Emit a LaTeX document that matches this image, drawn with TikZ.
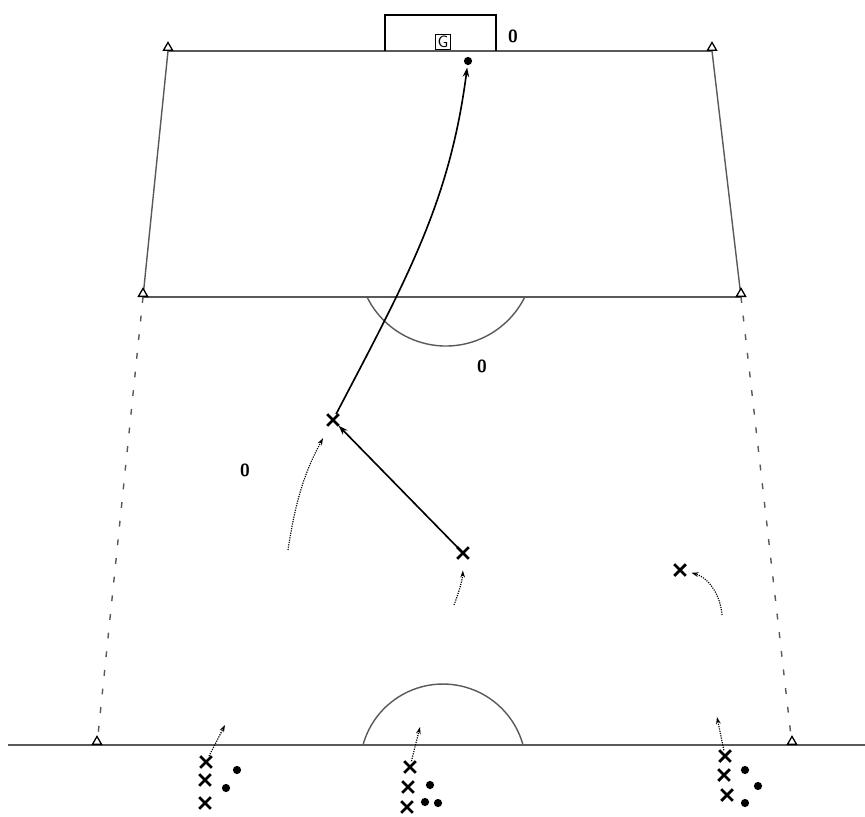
\documentclass[tikz,border=0pt]{standalone}
\usetikzlibrary{shapes.geometric,shapes.misc,arrows.meta}
\begin{document}
\begin{tikzpicture}[
      x=0.03cm, y=-0.03cm,
      every node/.style={font=\sffamily\bfseries},
      cone/.style={regular polygon, regular polygon sides=3, draw, fill=white, line width=1.1pt, inner sep=0pt, minimum size=9pt, anchor=south},
      plr/.style={cross out, draw, line width=2.4pt, inner sep=0pt, minimum size=7.5pt},
      opp/.style={circle, fill=black, inner sep=0pt, minimum size=7pt},
      pitch/.style={gray!70!black, line width=1.2pt},
      side/.style={pitch, dash pattern=on 5pt off 11pt},
      pass/.style={line width=1.4pt, -{Stealth[length=8pt,width=5.5pt]}},
      run/.style={densely dotted, line width=1pt, -{Stealth[length=6pt,width=4pt]}},
      lbl/.style={font=\sffamily\bfseries\fontsize{15}{17}\selectfont}
    ]
    \useasboundingbox (0,0) rectangle (865,817);

    % pitch
    \coordinate (TL) at (168,51);
    \coordinate (TR) at (712,51);
    \coordinate (ML) at (143,297);
    \coordinate (MR) at (741,297);
    \coordinate (BL) at (97,745);
    \coordinate (BR) at (792,745);

    \draw[pitch] (TL) -- (TR);
    \draw[pitch] (ML) -- (MR);
    \draw[pitch] (8,745) -- (865,745);
    \draw[pitch] (TL) -- (ML);
    \draw[pitch] (TR) -- (MR);
    \draw[side] (ML) -- (BL);
    \draw[side] (MR) -- (BR);

    \draw[pitch] (367,297) arc[start angle=153.7, end angle=26.3, radius=88];
    \draw[pitch] (363,745) arc[start angle=195.4, end angle=344.6, radius=83];

    \foreach \c in {TL,TR,ML,MR,BL,BR}
      \node[cone] (cone\c) at (\c) {};

    % goal
    \draw[line width=1.4pt] (385,51) -- (385,15) -- (496,15) -- (496,51);
    \node[draw, line width=0.7pt, inner sep=1.5pt, font=\sffamily\fontsize{14}{15}\selectfont] (gk) at (443,42) {G};

    \node[lbl] (z1) at (513,36) {0};
    \node[lbl] (z2) at (482,366) {0};
    \node[lbl] (z3) at (245,470) {0};

    % players
    \node[plr] (p1) at (333,420) {};
    \node[plr] (p2) at (463,553) {};
    \node[plr] (p3) at (680,570) {};
    \node[opp] (ball) at (468,61) {};

    \foreach \n/\x/\y in {a1/206/762, a2/205/780, a3/205/803,
                          b1/410/767, b2/408/787, b3/407/807,
                          c1/725/756, c2/724/775, c3/727/795}
      \node[plr] (x\n) at (\x,\y) {};
    \foreach \n/\x/\y in {a1/237/770, a2/226/788,
                          b1/430/785, b2/425/802, b3/438/803,
                          c1/745/770, c2/758/786, c3/745/803}
      \node[opp] (o\n) at (\x,\y) {};

    % passes and runs
    \draw[pass] (p2) -- (p1);
    \draw[pass, shorten >=2pt] (p1) .. controls (409,275) and (450,200) .. (ball);

    \coordinate (s1) at (288,550);
    \coordinate (s2) at (454,605);
    \coordinate (s3) at (722,615);
    \draw[run, shorten >=12pt] (s1) to[bend left=10] (p1);
    \draw[run, shorten >=10pt] (s2) to[bend right=10] (p2);
    \draw[run, shorten >=5pt] (s3) to[bend right=35] (p3);

    \coordinate (ta) at (225,725);
    \coordinate (tb) at (420,727);
    \coordinate (tc) at (717,717);
    \draw[run] (xa1) -- (ta);
    \draw[run] (xb1) -- (tb);
    \draw[run] (xc1) -- (tc);
\end{tikzpicture}
\end{document}
